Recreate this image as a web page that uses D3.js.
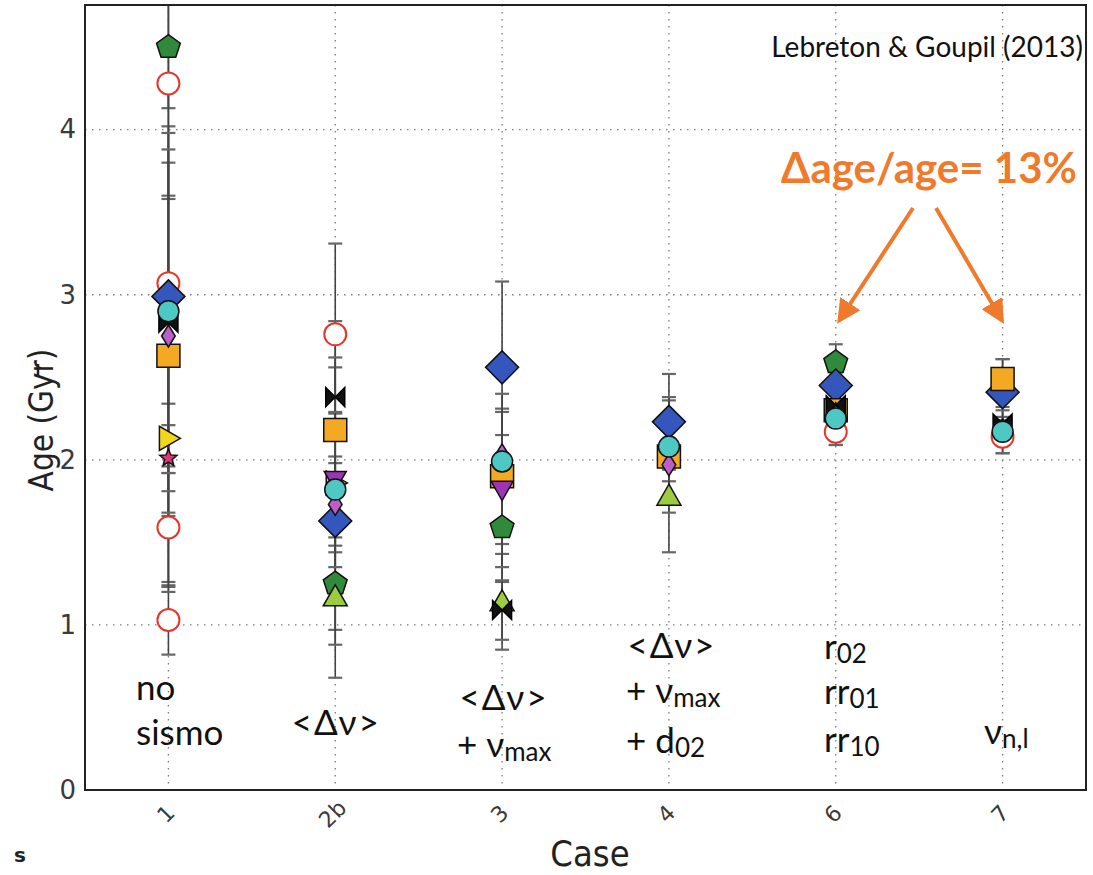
<!DOCTYPE html>
<html>
<head>
<meta charset="utf-8">
<script src="https://cdn.jsdelivr.net/npm/d3@7"></script>
<style>
  html, body { margin: 0; padding: 0; background: #fff; }
  svg { display: block; }
</style>
</head>
<body>
<svg id="chart" width="1093" height="875"></svg>
<script>
// Cases on the x axis
const cases = ["1", "2b", "3", "4", "6", "7"];
const yTicks = [0, 1, 2, 3, 4];

// Age estimates (Gyr) and half-widths of the error bars, one entry per case
const redCircleA    = [4.28, 2.76, null, null, 2.17, 2.14];
const redCircleAErr = [0.70, 0.55, null, null, 0.08, 0.10];
const redCircleB    = [3.07, null, null, null, null, null];
const redCircleBErr = [0.73, null, null, null, null, null];
const redCircleC    = [1.59, null, null, null, null, null];
const redCircleCErr = [0.33, null, null, null, null, null];
const redCircleD    = [1.03, null, null, null, null, null];
const redCircleDErr = [0.21, null, null, null, null, null];
const greenPentagon    = [4.50, 1.25, 1.59, null, 2.59, null];
const greenPentagonErr = [0.37, 0.28, 0.33, null, 0.11, null];
const lightGreenTri    = [null, 1.17, 1.14, 1.78, null, null];
const lightGreenTriErr = [null, 0.49, 0.29, 0.34, null, null];
const blueDiamond    = [2.99, 1.63, 2.56, 2.23, 2.45, 2.41];
const blueDiamondErr = [1.03, 0.35, 0.52, 0.29, 0.15, 0.20];
const yellowTri    = [2.13, 1.86, null, null, null, null];
const yellowTriErr = [0.90, 0.98, null, null, null, null];
const orangeSquare    = [2.63, 2.18, 1.90, 2.02, 2.30, 2.49];
const orangeSquareErr = [0.97, 0.38, 0.41, 0.34, 0.18, 0.12];
const purpleTriDown    = [null, 1.88, 1.82, null, null, null];
const purpleTriDownErr = [null, 0.40, 0.47, null, null, null];
const magentaDiamond    = [2.75, 1.73, 2.03, 1.97, 2.28, 2.18];
const magentaDiamondErr = [1.55, 0.29, 0.12, 0.10, 0.12, 0.08];
const bowtie    = [2.83, 2.38, 1.09, null, 2.33, 2.22];
const bowtieErr = [1.15, 0.24, 0.18, null, 0.20, 0.10];
const pinkStar    = [2.01, null, null, null, null, null];
const pinkStarErr = [0.20, null, null, null, null, null];
const cyanCircle    = [2.90, 1.82, 1.99, 2.08, 2.25, 2.17];
const cyanCircleErr = [0.98, 0.47, 0.41, 0.30, 0.16, 0.13];

// Marker styles, in drawing order (later ones sit on top)
const series = [
  { vals: redCircleA, errs: redCircleAErr, shape: "circleOpen", fill: "#ffffff", stroke: "#e8352a", size: 11 },
  { vals: redCircleB, errs: redCircleBErr, shape: "circleOpen", fill: "#ffffff", stroke: "#e8352a", size: 11 },
  { vals: redCircleC, errs: redCircleCErr, shape: "circleOpen", fill: "#ffffff", stroke: "#e8352a", size: 11 },
  { vals: redCircleD, errs: redCircleDErr, shape: "circleOpen", fill: "#ffffff", stroke: "#e8352a", size: 11 },
  { vals: greenPentagon, errs: greenPentagonErr, shape: "pentagon", fill: "#2f8a3c", stroke: "#111", size: 12.5 },
  { vals: lightGreenTri, errs: lightGreenTriErr, shape: "triUp", fill: "#9ccd3e", stroke: "#111", size: 12 },
  { vals: blueDiamond, errs: blueDiamondErr, shape: "diamond", fill: "#3557bd", stroke: "#111", size: 16.5 },
  { vals: yellowTri, errs: yellowTriErr, shape: "triRight", fill: "#f3d61c", stroke: "#111", size: 12 },
  { vals: orangeSquare, errs: orangeSquareErr, shape: "square", fill: "#f4a923", stroke: "#111", size: 11.5 },
  { vals: purpleTriDown, errs: purpleTriDownErr, shape: "triDown", fill: "#9c34b3", stroke: "#111", size: 11 },
  { vals: magentaDiamond, errs: magentaDiamondErr, shape: "thinDiamond", fill: "#bb5fc7", stroke: "#111", size: 11 },
  { vals: bowtie, errs: bowtieErr, shape: "bowtie", fill: "#111111", stroke: "#000", size: 9.5 },
  { vals: pinkStar, errs: pinkStarErr, shape: "star", fill: "#e23479", stroke: "#111", size: 9 },
  { vals: cyanCircle, errs: cyanCircleErr, shape: "circle", fill: "#4ec8c3", stroke: "#111", size: 10.5 }
];

const margin = { left: 85, right: 1086, top: 5, bottom: 790 };
const svg = d3.select("#chart");

const x = d3.scalePoint().domain(cases).range([margin.left, margin.right]).padding(0.5);
const y = d3.scaleLinear().domain([0, 4.755]).range([margin.bottom, margin.top]);

const defs = svg.append("defs");
defs.append("clipPath").attr("id", "plot-clip")
  .append("rect")
  .attr("x", margin.left).attr("y", margin.top)
  .attr("width", margin.right - margin.left).attr("height", margin.bottom - margin.top);

// Dotted grid
const grid = svg.append("g").attr("stroke", "#7a7a7a").attr("stroke-width", 1.3)
  .attr("stroke-dasharray", "1.5,5.5");
grid.selectAll("line.h").data(yTicks.filter(d => d > 0)).join("line")
  .attr("x1", margin.left).attr("x2", margin.right)
  .attr("y1", d => y(d)).attr("y2", d => y(d));
grid.selectAll("line.v").data(cases).join("line")
  .attr("x1", d => x(d)).attr("x2", d => x(d))
  .attr("y1", margin.top).attr("y2", margin.bottom);

// Axes
const yAxis = d3.axisLeft(y).tickValues(yTicks).tickSize(0).tickPadding(9).tickFormat(d3.format("d"));
const yG = svg.append("g").attr("transform", `translate(${margin.left},0)`).call(yAxis);
yG.select(".domain").remove();
yG.selectAll("text").attr("font-family", "DejaVu Sans").attr("font-size", 26).attr("fill", "#3a3a3a");

const xAxis = d3.axisBottom(x).tickSize(0).tickPadding(0);
const xG = svg.append("g").attr("transform", `translate(0,${margin.bottom})`).call(xAxis);
xG.select(".domain").remove();
xG.selectAll("text")
  .attr("font-family", "DejaVu Sans").attr("font-size", 22).attr("fill", "#3a3a3a")
  .attr("text-anchor", "middle").attr("dy", null).attr("y", 0)
  .attr("transform", "translate(-2,25) rotate(-45)")
  .attr("dominant-baseline", "middle");

// Error bars
const points = [];
series.forEach((s, si) => {
  s.vals.forEach((v, i) => {
    if (v !== null) points.push({ s, si, c: cases[i], v, e: s.errs[i] });
  });
});

const eb = svg.append("g").attr("clip-path", "url(#plot-clip)")
  .attr("stroke", "#444").attr("stroke-width", 1.6);
points.forEach(p => {
  const cx = x(p.c);
  eb.append("line").attr("x1", cx).attr("x2", cx)
    .attr("y1", y(p.v - p.e)).attr("y2", y(p.v + p.e));
  [p.v - p.e, p.v + p.e].forEach(b => {
    eb.append("line").attr("x1", cx - 7).attr("x2", cx + 7)
      .attr("y1", y(b)).attr("y2", y(b)).attr("stroke", "#666").attr("stroke-width", 2.2);
  });
});

// Marker shapes
function shapePath(shape, r) {
  const poly = pts => "M" + pts.map(p => p.join(",")).join("L") + "Z";
  switch (shape) {
    case "pentagon":
      return poly(d3.range(5).map(k => {
        const a = -Math.PI / 2 + k * 2 * Math.PI / 5;
        return [r * Math.cos(a), r * Math.sin(a)];
      }));
    case "diamond": return poly([[0, -r], [r, 0], [0, r], [-r, 0]]);
    case "thinDiamond": return poly([[0, -r], [r * 0.62, 0], [0, r], [-r * 0.62, 0]]);
    case "square": return poly([[-r, -r], [r, -r], [r, r], [-r, r]]);
    case "triUp": return poly([[0, -r], [r, r * 0.75], [-r, r * 0.75]]);
    case "triDown": return poly([[0, r], [r, -r * 0.75], [-r, -r * 0.75]]);
    case "triRight": return poly([[r, 0], [-r * 0.75, -r], [-r * 0.75, r]]);
    case "bowtie": return "M" + (-r) + "," + (-r) + "L0,0L" + (-r) + "," + r + "Z" +
                          "M" + r + "," + (-r) + "L0,0L" + r + "," + r + "Z";
    case "star":
      return poly(d3.range(10).map(k => {
        const a = -Math.PI / 2 + k * Math.PI / 5;
        const rr = k % 2 === 0 ? r : r * 0.45;
        return [rr * Math.cos(a), rr * Math.sin(a)];
      }));
    default: return null;
  }
}

const mk = svg.append("g");
points.forEach(p => {
  const cx = x(p.c), cy = y(p.v), s = p.s;
  if (s.shape === "circle" || s.shape === "circleOpen") {
    mk.append("circle").attr("cx", cx).attr("cy", cy).attr("r", s.size)
      .attr("fill", s.fill).attr("stroke", s.stroke)
      .attr("stroke-width", s.shape === "circleOpen" ? 2 : 1.5);
  } else {
    mk.append("path").attr("transform", `translate(${cx},${cy})`)
      .attr("d", shapePath(s.shape, s.size))
      .attr("fill", s.fill).attr("stroke", s.stroke).attr("stroke-width", 1.5)
      .attr("stroke-linejoin", "miter");
  }
});

// Frame
svg.append("rect")
  .attr("x", margin.left).attr("y", margin.top)
  .attr("width", margin.right - margin.left).attr("height", margin.bottom - margin.top)
  .attr("fill", "none").attr("stroke", "#222").attr("stroke-width", 2);

// Axis titles
svg.append("text")
  .attr("transform", "translate(53,420) rotate(-90)")
  .attr("text-anchor", "middle")
  .attr("font-family", "DejaVu Sans Condensed, DejaVu Sans").attr("font-stretch", "condensed")
  .attr("font-size", 33).attr("fill", "#222").text("Age (Gyr)");
svg.append("line").attr("x1", 38).attr("x2", 38).attr("y1", 364).attr("y2", 377)
  .attr("stroke", "#222").attr("stroke-width", 2.5);
svg.append("text")
  .attr("x", 590).attr("y", 866)
  .attr("text-anchor", "middle")
  .attr("font-family", "DejaVu Sans Condensed, DejaVu Sans").attr("font-stretch", "condensed")
  .attr("font-size", 36).attr("fill", "#222").text("Case");
svg.append("text").attr("x", 14).attr("y", 862)
  .attr("font-family", "DejaVu Sans").attr("font-size", 20).attr("font-weight", "bold")
  .attr("fill", "#222").text("s");

// Annotations
const annFont = "Lato, 'Noto Sans', sans-serif";
svg.append("text").attr("x", 1083).attr("y", 57).attr("text-anchor", "end")
  .attr("font-family", annFont).attr("font-size", 28).attr("fill", "#111")
  .text("Lebreton & Goupil (2013)");

svg.append("text").attr("x", 1077).attr("y", 183).attr("text-anchor", "end")
  .attr("font-family", annFont).attr("font-size", 42).attr("font-weight", "bold")
  .attr("fill", "#f07a2b").text("Δage/age= 13%");

const orange = "#f07a2b";
defs.append("marker").attr("id", "arrowhead")
  .attr("viewBox", "0 0 10 10").attr("refX", 8).attr("refY", 5)
  .attr("markerWidth", 6).attr("markerHeight", 6).attr("orient", "auto")
  .append("path").attr("d", "M0,0L10,5L0,10Z").attr("fill", orange);
[["6", 913, 4], ["7", 936, -1]].forEach(([c, sx, dx]) => {
  svg.append("line").attr("x1", sx).attr("y1", 208)
    .attr("x2", x(c) + dx).attr("y2", y(2.8) - 8)
    .attr("stroke", orange).attr("stroke-width", 4).attr("marker-end", "url(#arrowhead)");
});

// Case descriptions
const desc = svg.append("g").attr("font-family", annFont).attr("fill", "#111").attr("font-size", 35);
function label(xp, yp, parts, anchor) {
  const t = desc.append("text").attr("x", xp).attr("y", yp).attr("text-anchor", anchor || "start");
  parts.forEach(([str, sub]) => {
    const ts = t.append("tspan").text(str);
    if (sub) ts.attr("font-size", 26).attr("dy", 4);
  });
  return t;
}
label(136, 700, [["no"]]);
label(136, 745, [["sismo"]]);
label(x("2b") + 1, 735, [["<Δν>"]], "middle").attr("letter-spacing", 2);
label(x("3") + 2, 710, [["<Δν>"]], "middle").attr("letter-spacing", 2);
label(457, 757, [["+ ν"], ["max", true]]);
label(x("4") + 3, 658, [["<Δν>"]], "middle").attr("letter-spacing", 2);
label(626, 703, [["+ ν"], ["max", true]]);
label(626, 753, [["+ d"], ["02", true]]);
label(824, 659, [["r"], ["02", true]]);
label(824, 704, [["rr"], ["01", true]]);
label(824, 752, [["rr"], ["10", true]]);
label(984, 744, [["ν"], ["n,l", true]]);
</script>
</body>
</html>
